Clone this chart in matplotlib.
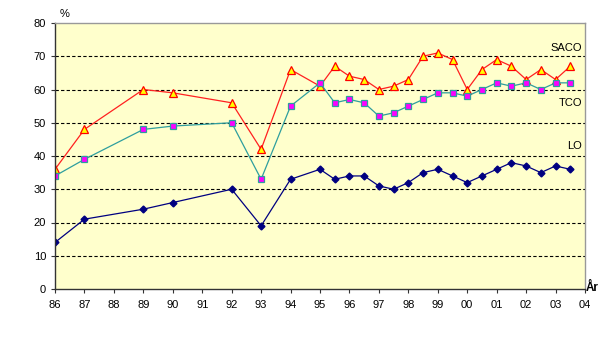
import matplotlib
matplotlib.use("Agg")
import matplotlib.pyplot as plt

# years (86 = 1986, 100 = 2000 ...), half-year points from 95 on
years = [86, 87, 89, 90, 92, 93, 94, 95, 95.5, 96, 96.5, 97, 97.5, 98, 98.5,
         99, 99.5, 100, 100.5, 101, 101.5, 102, 102.5, 103, 103.5]
saco = [36, 48, 60, 59, 56, 42, 66, 61, 67, 64, 63, 60, 61, 63, 70,
        71, 69, 60, 66, 69, 67, 63, 66, 63, 67]
tco = [34, 39, 48, 49, 50, 33, 55, 62, 56, 57, 56, 52, 53, 55, 57,
       59, 59, 58, 60, 62, 61, 62, 60, 62, 62]
lo = [14, 21, 24, 26, 30, 19, 33, 36, 33, 34, 34, 31, 30, 32, 35,
      36, 34, 32, 34, 36, 38, 37, 35, 37, 36]

tick_pos = list(range(86, 105))
tick_labels = ["86", "87", "88", "89", "90", "91", "92", "93", "94", "95",
               "96", "97", "98", "99", "00", "01", "02", "03", "04"]

plt.rcParams['font.family'] = ['Liberation Sans', 'DejaVu Sans']

fig = plt.figure(figsize=(6.06, 3.47), dpi=100)
ax = fig.add_axes([55/606, 1 - 289/347, 530/606, 266/347])
ax.set_facecolor('#FFFFCC')

ax.plot(years, saco, color='#FF2020', lw=0.9, marker='^', ms=6,
        mfc='#FFFF00', mec='#FF0000', mew=0.9)
ax.plot(years, tco, color='#2E9E9E', lw=0.9, marker='s', ms=4.5,
        mfc='#FF00FF', mec='#2E9E9E', mew=0.9)
ax.plot(years, lo, color='#000080', lw=0.9, marker='D', ms=3.5,
        mfc='#000080', mec='#000080')

ax.set_xlim(86, 104)
ax.set_ylim(0, 80)
ax.set_xticks(tick_pos)
ax.set_xticklabels(tick_labels)
ax.set_yticks(range(0, 81, 10))
ax.tick_params(labelsize=8, length=3, width=0.8, colors='#333333')
ax.tick_params(axis='x', pad=5)
for lbl in ax.get_xticklabels() + ax.get_yticklabels():
    lbl.set_color('black')

for v in range(10, 80, 10):
    ax.axhline(v, color='black', lw=0.8, ls=(0, (3, 2)), zorder=0)

for s in ['left', 'bottom']:
    ax.spines[s].set_color('#333333')
    ax.spines[s].set_linewidth(1.0)
for s in ['top', 'right']:
    ax.spines[s].set_color('#999999')
    ax.spines[s].set_linewidth(1.0)

ax.text(103.9, 72.5, 'SACO', fontsize=8, ha='right', va='center')
ax.text(103.9, 56, 'TCO', fontsize=8, ha='right', va='center')
ax.text(103.9, 43, 'LO', fontsize=8, ha='right', va='center')
fig.text(60/606, 1 - 14/347, '%', fontsize=8, ha='left', va='center')
fig.text(586/606, 1 - 288/347, 'År', fontsize=8.5, fontweight='bold',
         ha='left', va='center')

fig.savefig('out.png', dpi=100)
